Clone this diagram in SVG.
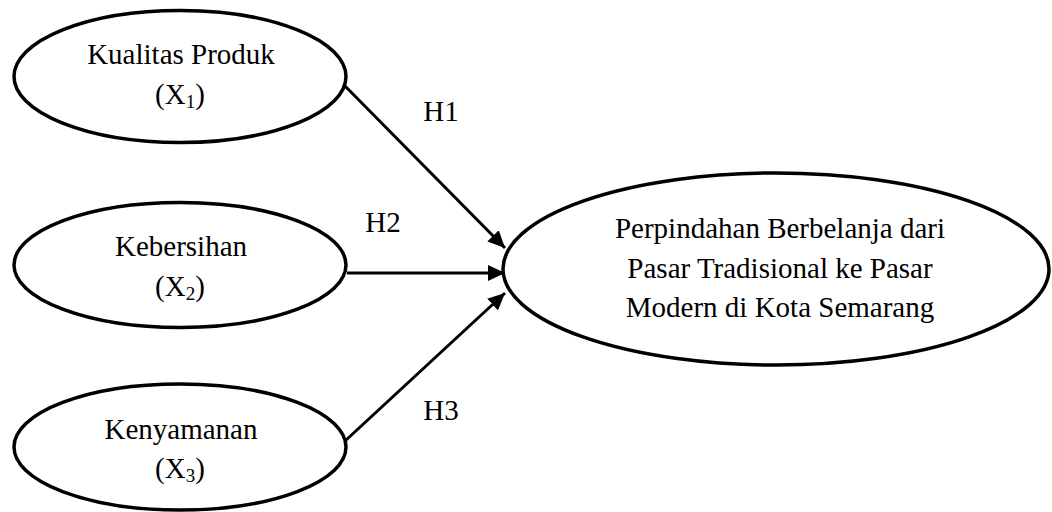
<svg xmlns="http://www.w3.org/2000/svg" width="1052" height="512" viewBox="0 0 1052 512">
<style>
.node ellipse{fill:#fff;stroke:#000;stroke-width:3.5}
text{font-family:"Liberation Serif","Times New Roman","DejaVu Serif",serif;font-size:29px;fill:#000;text-anchor:middle}
.sub{font-size:19px}
.conn line{stroke:#000;stroke-width:3}
</style>
<defs>
<marker id="ah" markerUnits="userSpaceOnUse" markerWidth="18" markerHeight="16" refX="17" refY="8" orient="auto">
<path d="M0,0 L17,8 L0,16 z" fill="#000"/>
</marker>
</defs>
<g id="connectors" class="conn">
<line x1="345" y1="86" x2="505" y2="248" marker-end="url(#ah)"/>
<line x1="347" y1="273" x2="505" y2="273" marker-end="url(#ah)"/>
<line x1="345" y1="441" x2="505" y2="293" marker-end="url(#ah)"/>
</g>
<g id="labels">
<text x="441" y="121">H1</text>
<text x="383" y="232">H2</text>
<text x="441" y="420">H3</text>
</g>
<g id="x1" class="node">
<ellipse cx="180" cy="76.5" rx="166" ry="66"/>
<text x="181" y="64">Kualitas Produk</text>
<text x="180" y="104">(X<tspan class="sub" dy="4">1</tspan><tspan dy="-4">)</tspan></text>
</g>
<g id="x2" class="node">
<ellipse cx="180" cy="265" rx="166" ry="62.5"/>
<text x="181" y="256">Kebersihan</text>
<text x="180" y="296">(X<tspan class="sub" dy="4">2</tspan><tspan dy="-4">)</tspan></text>
</g>
<g id="x3" class="node">
<ellipse cx="180" cy="447" rx="166" ry="63"/>
<text x="181" y="439">Kenyamanan</text>
<text x="180" y="478">(X<tspan class="sub" dy="4">3</tspan><tspan dy="-4">)</tspan></text>
</g>
<g id="y" class="node">
<ellipse cx="776" cy="269" rx="273" ry="96"/>
<text x="780" y="238">Perpindahan Berbelanja dari</text>
<text x="780" y="278">Pasar Tradisional ke Pasar</text>
<text x="780" y="317">Modern di Kota Semarang</text>
</g>
</svg>
